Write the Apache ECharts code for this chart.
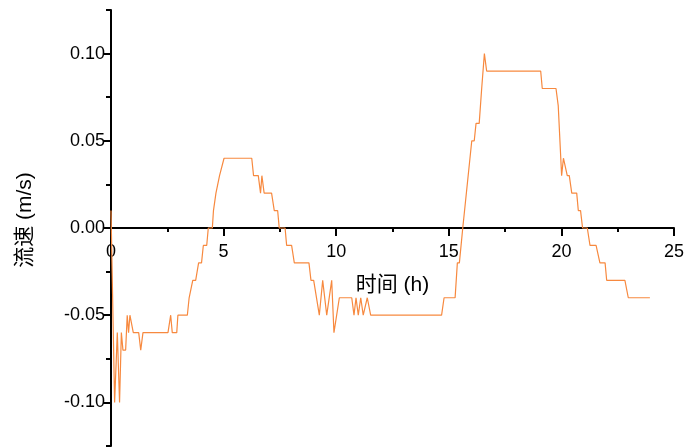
<!DOCTYPE html>
<html>
<head>
<meta charset="utf-8">
<script src="https://cdn.jsdelivr.net/npm/echarts@6/dist/echarts.min.js"></script>
<style>html,body{margin:0;padding:0;background:#fff;}#c{width:687px;height:448px;}</style>
</head>
<body>
<div id="c"></div>
<script>
var hours = [0.00,0.16,0.28,0.38,0.46,0.53,0.65,0.72,0.78,0.84,0.99,1.23,1.32,1.42,2.53,2.65,2.72,2.92,2.97,
  3.39,3.47,3.55,3.63,3.76,3.89,4.02,4.10,4.25,4.32,4.50,4.55,4.62,4.66,4.74,4.82,4.88,5.02,
  6.25,6.33,6.54,6.64,6.70,6.75,6.80,7.13,7.25,7.40,7.47,7.73,7.80,8.02,8.14,8.79,8.88,9.00,
  9.25,9.40,9.58,9.80,9.90,10.14,10.69,10.79,10.88,10.98,11.09,11.20,11.38,11.53,14.68,14.79,
  15.28,15.38,15.47,15.62,16.02,16.13,16.21,16.35,16.46,16.58,16.68,19.08,19.15,19.76,19.86,
  20.01,20.09,20.15,20.26,20.35,20.46,20.68,20.75,20.85,20.94,21.15,21.27,21.54,21.71,21.94,
  22.01,22.82,22.97,23.93];
var speed = [0.01,-0.10,-0.06,-0.10,-0.06,-0.07,-0.07,-0.05,-0.06,-0.05,-0.06,-0.06,-0.07,-0.06,-0.06,-0.05,-0.06,-0.06,-0.05,
  -0.05,-0.04,-0.04,-0.03,-0.03,-0.02,-0.02,-0.01,-0.01,0.00,0.00,0.01,0.01,0.02,0.02,0.03,0.03,0.04,
  0.04,0.03,0.03,0.02,0.03,0.03,0.02,0.02,0.01,0.01,0.00,0.00,-0.01,-0.01,-0.02,-0.02,-0.03,-0.03,
  -0.05,-0.03,-0.05,-0.03,-0.06,-0.04,-0.04,-0.05,-0.04,-0.05,-0.04,-0.05,-0.04,-0.05,-0.05,-0.04,
  -0.04,-0.02,-0.02,0.00,0.05,0.05,0.06,0.06,0.08,0.10,0.09,0.09,0.08,0.08,0.07,
  0.03,0.04,0.04,0.03,0.03,0.02,0.02,0.01,0.01,0.00,0.00,-0.01,-0.01,-0.02,-0.02,
  -0.03,-0.03,-0.04,-0.04];
var yMajorTicks = [-0.10,-0.05,0.00,0.05,0.10];
var yMinorTicks = [-0.125,-0.075,-0.025,0.025,0.075,0.125];
var xTickStep = 5;
var xName = '时间 (h)';
var yName = '流速 (m/s)';

var data = hours.map(function(h,i){return [h, speed[i]];});
var chart = echarts.init(document.getElementById('c'));
var tickFont = {color:'#000', fontSize:18, fontFamily:'Liberation Sans, Arial, sans-serif'};
chart.setOption({
  animation:false,
  backgroundColor:'#fff',
  grid:{left:111,right:13,top:10,bottom:2,containLabel:false,outerBoundsMode:'none'},
  xAxis:{
    type:'value', min:0, max:25, interval:xTickStep, position:'bottom', offset:-218,
    name:xName, nameLocation:'middle', nameGap:47,
    nameTextStyle:{color:'#000',fontSize:21,fontFamily:'Liberation Sans, Noto Sans CJK SC, sans-serif'},
    axisLine:{onZero:false,lineStyle:{color:'#000',width:2}},
    axisTick:{show:true,inside:false,length:8,lineStyle:{color:'#000',width:2}},
    minorTick:{show:true,splitNumber:2,length:4,lineStyle:{color:'#000',width:2}},
    axisLabel:Object.assign({margin:15},tickFont),
    splitLine:{show:false}
  },
  yAxis:[{
    type:'value', min:-0.125, max:0.125,
    axisLine:{show:true,onZero:false,lineStyle:{color:'#000',width:2}},
    axisTick:{show:true,length:8,customValues:yMajorTicks,lineStyle:{color:'#000',width:2}},
    axisLabel:Object.assign({margin:6,customValues:yMajorTicks,formatter:function(v){return v.toFixed(2);}},tickFont),
    splitLine:{show:false}
  },{
    type:'value', min:-0.125, max:0.125, position:'left',
    axisLine:{show:false},
    axisTick:{show:true,length:5,customValues:yMinorTicks,lineStyle:{color:'#000',width:2}},
    axisLabel:{show:false},
    splitLine:{show:false}
  }],
  graphic:[{
    type:'text', x:25, y:220, rotation:Math.PI/2,
    style:{text:yName, fill:'#000', fontSize:21, fontFamily:'Liberation Sans, Noto Sans CJK SC, sans-serif', align:'center', verticalAlign:'middle'}
  }],
  series:[{
    type:'line', data:data, showSymbol:false, yAxisIndex:0,
    lineStyle:{color:'#F7893F',width:1.2}, itemStyle:{color:'#F7893F'}
  }]
});
</script>
</body>
</html>
